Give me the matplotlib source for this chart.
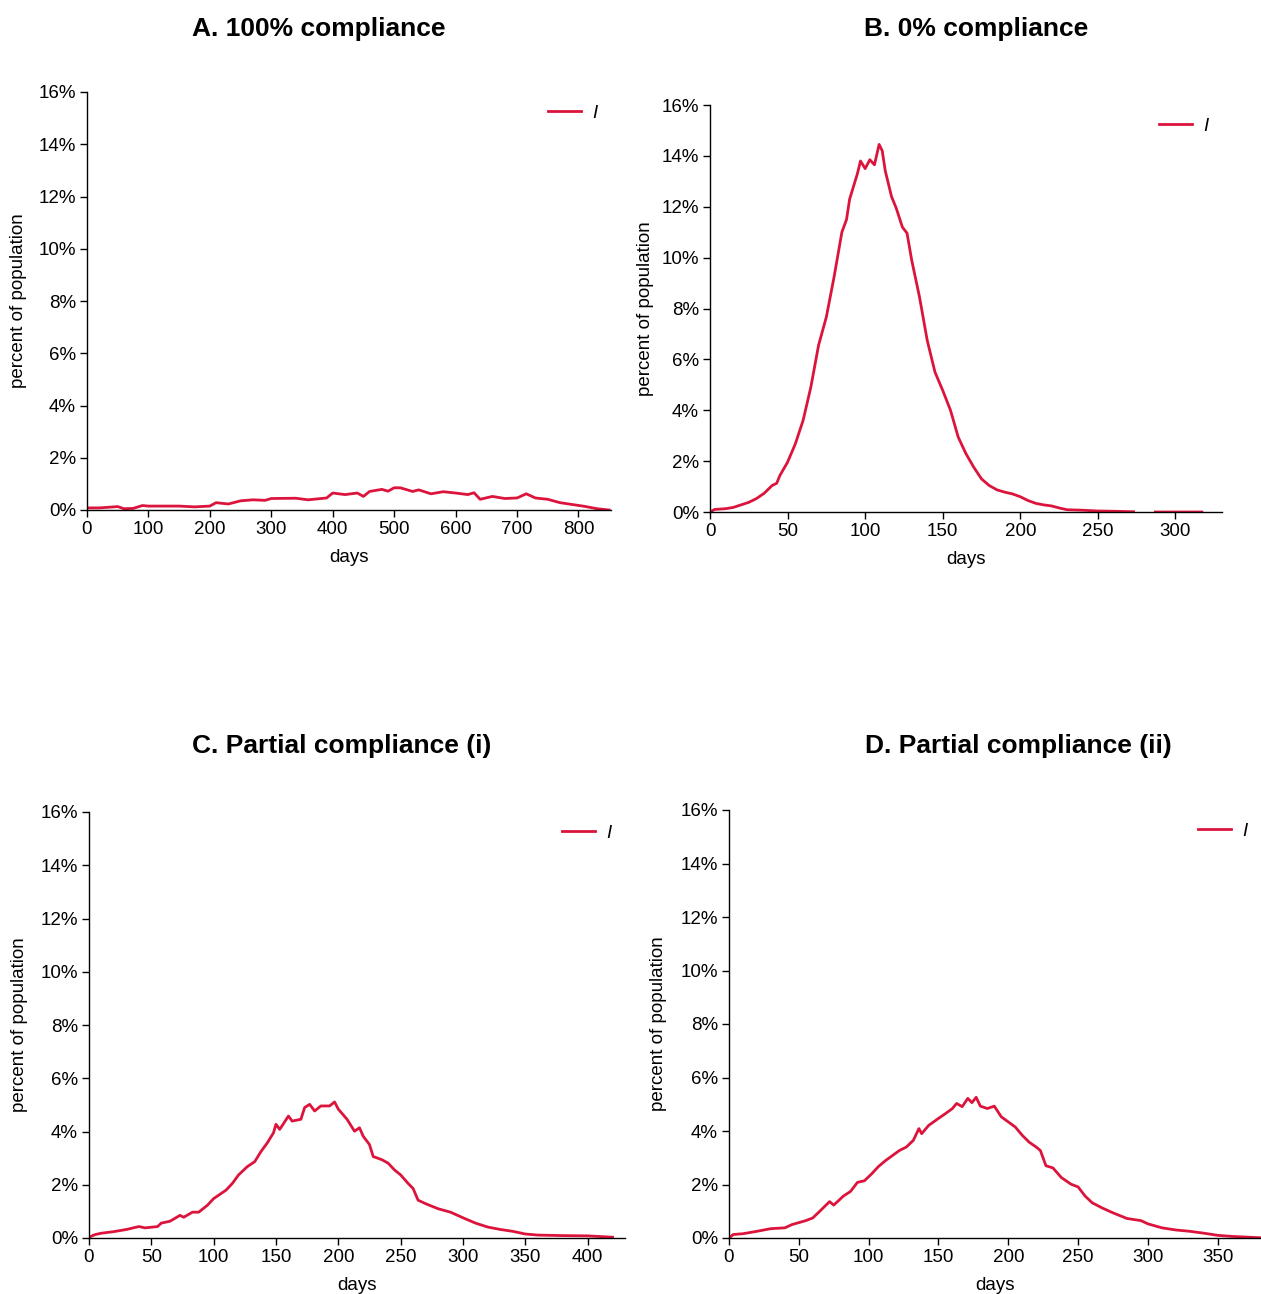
import numpy as np
import matplotlib
matplotlib.use("Agg")
import matplotlib.pyplot as plt
from matplotlib.ticker import FuncFormatter

plt.rcParams['font.family'] = ['Liberation Sans', 'DejaVu Sans']

# ---------------- data (percent of population infected, I) ----------------
days_a = [0, 20, 50, 60, 75, 90, 100, 150, 175, 200, 210, 230, 250, 270, 290, 300,
          340, 360, 390, 400, 420, 440, 450, 460, 480, 490, 500, 510, 530, 540, 560,
          580, 600, 620, 630, 640, 660, 680, 700, 715, 730, 750, 770, 790, 810, 830, 850]
inf_a = [0.08, 0.08, 0.13, 0.05, 0.06, 0.17, 0.15, 0.15, 0.12, 0.15, 0.28, 0.23, 0.35,
         0.39, 0.37, 0.44, 0.45, 0.39, 0.46, 0.65, 0.59, 0.65, 0.52, 0.71, 0.79, 0.72,
         0.85, 0.85, 0.71, 0.77, 0.62, 0.70, 0.65, 0.59, 0.66, 0.41, 0.52, 0.44, 0.46,
         0.62, 0.46, 0.41, 0.28, 0.21, 0.14, 0.05, 0.0]

days_b = [0, 3, 10, 15, 20, 25, 30, 35, 40, 43, 45, 50, 55, 60, 65, 70, 75, 80, 85, 88,
          90, 95, 97, 100, 103, 106, 109, 111, 113, 117, 120, 124, 127, 130, 135, 140,
          145, 150, 155, 160, 165, 170, 175, 180, 185, 190, 195, 200, 205, 210, 215,
          220, 225, 230, 240, 250, 260, 273, 274, 286, 287, 300, 317]
inf_b = [0.0, 0.10, 0.13, 0.18, 0.28, 0.38, 0.53, 0.74, 1.04, 1.13, 1.43, 1.96, 2.68,
         3.60, 4.91, 6.56, 7.67, 9.25, 11.0, 11.5, 12.3, 13.3, 13.8, 13.5, 13.85, 13.65,
         14.45, 14.2, 13.4, 12.4, 11.95, 11.2, 10.96, 9.9, 8.46, 6.75, 5.5, 4.78, 4.0,
         2.94, 2.29, 1.76, 1.30, 1.04, 0.87, 0.78, 0.71, 0.60, 0.45, 0.34, 0.28, 0.24,
         0.16, 0.09, 0.07, 0.04, 0.03, 0.01, np.nan, np.nan, 0.0, 0.0, 0.0]

days_c = [0, 5, 10, 20, 30, 40, 45, 55, 58, 65, 73, 76, 83, 88, 95, 100, 110, 115, 120,
          127, 133, 138, 143, 148, 150, 153, 160, 163, 170, 173, 177, 181, 186, 193, 197,
          200, 207, 213, 217, 220, 225, 228, 235, 240, 245, 250, 256, 260, 264, 270, 280,
          290, 300, 310, 320, 330, 340, 350, 360, 380, 400, 420]
inf_c = [0.03, 0.13, 0.18, 0.24, 0.32, 0.43, 0.38, 0.43, 0.56, 0.63, 0.85, 0.78, 0.97,
         0.97, 1.23, 1.48, 1.80, 2.05, 2.37, 2.68, 2.87, 3.25, 3.57, 3.95, 4.27, 4.08,
         4.58, 4.39, 4.46, 4.90, 5.02, 4.77, 4.96, 4.96, 5.11, 4.84, 4.46, 4.01, 4.14,
         3.82, 3.51, 3.06, 2.94, 2.81, 2.56, 2.37, 2.05, 1.86, 1.42, 1.29, 1.10, 0.97,
         0.76, 0.56, 0.41, 0.32, 0.25, 0.15, 0.11, 0.09, 0.08, 0.03]

days_d = [0, 3, 10, 20, 30, 40, 45, 55, 60, 65, 72, 75, 82, 87, 92, 97, 102, 107, 112,
          117, 122, 127, 132, 136, 138, 143, 150, 155, 160, 163, 167, 171, 174, 177, 180,
          185, 190, 195, 200, 205, 210, 215, 220, 223, 227, 232, 238, 245, 250, 255, 260,
          267, 275, 285, 295, 300, 310, 320, 330, 340, 350, 360, 380]
inf_d = [0.0, 0.13, 0.16, 0.25, 0.35, 0.38, 0.50, 0.65, 0.75, 1.00, 1.36, 1.23, 1.57,
         1.74, 2.08, 2.14, 2.39, 2.67, 2.89, 3.08, 3.27, 3.40, 3.65, 4.09, 3.90, 4.21,
         4.47, 4.65, 4.84, 5.03, 4.91, 5.22, 5.06, 5.26, 4.93, 4.84, 4.93, 4.53, 4.34,
         4.15, 3.84, 3.58, 3.40, 3.27, 2.70, 2.62, 2.26, 2.01, 1.91, 1.57, 1.32, 1.13,
         0.94, 0.73, 0.65, 0.53, 0.38, 0.30, 0.25, 0.18, 0.10, 0.06, 0.01]

titles = ["A. 100% compliance", "B. 0% compliance",
          "C. Partial compliance (i)", "D. Partial compliance (ii)"]
xticks_a = [0, 100, 200, 300, 400, 500, 600, 700, 800]
xticks_b = [0, 50, 100, 150, 200, 250, 300]
xticks_c = [0, 50, 100, 150, 200, 250, 300, 350, 400]
xticks_d = [0, 50, 100, 150, 200, 250, 300, 350]
yticks = [0, 2, 4, 6, 8, 10, 12, 14, 16]
series_label = "I"

# ---------------- layout ----------------
W, H = 1261, 1294
fig = plt.figure(figsize=(W / 100, H / 100), dpi=100)
color = "#DC143C"
fs = 13.5

def px_axes(l, r, b, t):
    return fig.add_axes([l / W, (H - b) / H, (r - l) / W, (b - t) / H])

panels = [
    dict(box=(87, 611, 510, 92), x=days_a, y=inf_a, xt=xticks_a, xlim=853,
         title_xy=(319, 29), ylab_x=19, xlab_y=558),
    dict(box=(710, 1222, 512, 105), x=days_b, y=inf_b, xt=xticks_b, xlim=330,
         title_xy=(976, 29), ylab_x=645, xlab_y=559),
    dict(box=(89, 625, 1238, 812), x=days_c, y=inf_c, xt=xticks_c, xlim=430,
         title_xy=(342, 746), ylab_x=20, xlab_y=1286),
    dict(box=(729, 1261, 1238, 810), x=days_d, y=inf_d, xt=xticks_d, xlim=381,
         title_xy=(1018, 746), ylab_x=659, xlab_y=1286),
]

for p, title in zip(panels, titles):
    l, r, b, t = p["box"]
    w, h = r - l, b - t
    ax = px_axes(l, r, b, t)
    ax.plot(p["x"], p["y"], color=color, lw=2.0, label=series_label)
    ax.set_xlim(0, p["xlim"])
    ax.set_ylim(0, 16)
    ax.set_yticks(yticks)
    ax.set_xticks(p["xt"])
    ax.yaxis.set_major_formatter(FuncFormatter(lambda v, pos: f"{v:.0f}%"))
    for s in ("top", "right"):
        ax.spines[s].set_visible(False)
    for s in ("left", "bottom"):
        ax.spines[s].set_linewidth(1.0)
    ax.tick_params(labelsize=fs, length=5, width=1.0, pad=3)
    ax.set_xlabel("days", fontsize=fs)
    ax.set_ylabel("percent of population", fontsize=fs)
    ax.xaxis.set_label_coords(0.5, (b - p["xlab_y"]) / h)
    ax.yaxis.set_label_coords((p["ylab_x"] - l) / w, 0.5)
    ax.xaxis.label.set_va("center")
    ax.yaxis.label.set_va("center")
    ax.legend(loc="upper right", frameon=False,
              handlelength=1.75, handletextpad=0.6,
              bbox_to_anchor=(1.0 + 3.5 / w, 1.0 + 4.5 / h),
              prop={"style": "italic", "size": fs})
    fig.text(p["title_xy"][0] / W, 1 - p["title_xy"][1] / H, title,
             ha="center", va="center", fontsize=19, fontweight="bold")

fig.savefig("out.png", dpi=100)
